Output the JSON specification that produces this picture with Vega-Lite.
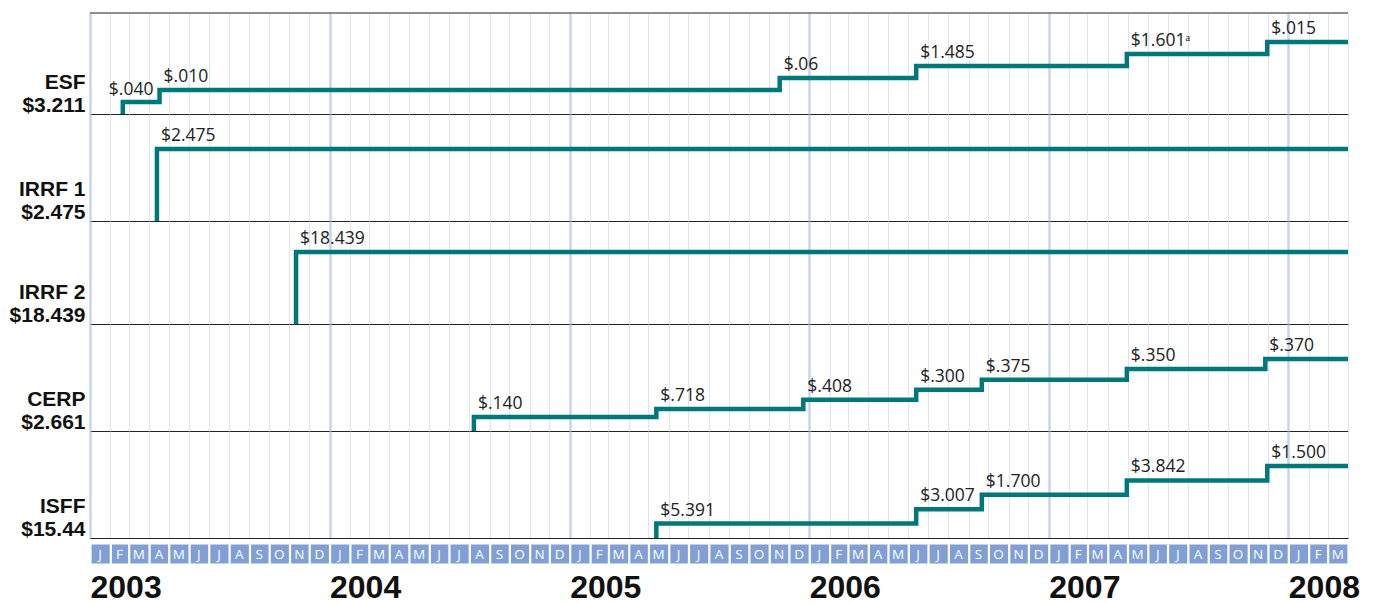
{
  "$schema": "https://vega.github.io/schema/vega-lite/v6.json",
  "padding": {"left": 9, "top": 12, "right": 5, "bottom": 0},
  "background": "white",
  "config": {"view": {"stroke": null}, "font": "Liberation Sans",
    "axisY": {"labels": false, "ticks": false, "domain": false, "grid": false, "titleAngle": 0, "titleAlign": "right", "titleBaseline": "alphabetic", "titleX": -5, "titleFontSize": 21, "titleFontWeight": "bold", "titleColor": "#111", "titleLineHeight": 23, "titlePadding": 0}},
  "datasets": {
    "steps": [
      {"fund": "ESF", "i": 0, "date": "2003-02-20", "level": 0, "label": null},
      {"fund": "ESF", "i": 1, "date": "2003-02-20", "level": 1, "label": "$.040"},
      {"fund": "ESF", "i": 2, "date": "2003-04-17", "level": 2, "label": "$.010"},
      {"fund": "ESF", "i": 3, "date": "2005-11-17", "level": 3, "label": "$.06"},
      {"fund": "ESF", "i": 4, "date": "2006-06-13", "level": 4, "label": "$1.485"},
      {"fund": "ESF", "i": 5, "date": "2007-04-30", "level": 5, "label": "$1.601ᵃ"},
      {"fund": "ESF", "i": 6, "date": "2007-11-30", "level": 6, "label": "$.015"},
      {"fund": "ESF", "i": 7, "date": "2008-04-01", "level": 6, "label": null},
      {"fund": "IRRF 1", "i": 0, "date": "2003-04-13", "level": 0, "label": null},
      {"fund": "IRRF 1", "i": 1, "date": "2003-04-13", "level": 6, "label": "$2.475"},
      {"fund": "IRRF 1", "i": 2, "date": "2008-04-01", "level": 6, "label": null},
      {"fund": "IRRF 2", "i": 0, "date": "2003-11-11", "level": 0, "label": null},
      {"fund": "IRRF 2", "i": 1, "date": "2003-11-11", "level": 6, "label": "$18.439"},
      {"fund": "IRRF 2", "i": 2, "date": "2008-04-01", "level": 6, "label": null},
      {"fund": "CERP", "i": 0, "date": "2004-08-08", "level": 0, "label": null},
      {"fund": "CERP", "i": 1, "date": "2004-08-08", "level": 1.17, "label": "$.140"},
      {"fund": "CERP", "i": 2, "date": "2005-05-13", "level": 1.83, "label": "$.718"},
      {"fund": "CERP", "i": 3, "date": "2005-12-23", "level": 2.6, "label": "$.408"},
      {"fund": "CERP", "i": 4, "date": "2006-06-13", "level": 3.43, "label": "$.300"},
      {"fund": "CERP", "i": 5, "date": "2006-09-21", "level": 4.28, "label": "$.375"},
      {"fund": "CERP", "i": 6, "date": "2007-04-30", "level": 5.16, "label": "$.350"},
      {"fund": "CERP", "i": 7, "date": "2007-11-27", "level": 6, "label": "$.370"},
      {"fund": "CERP", "i": 8, "date": "2008-04-01", "level": 6, "label": null},
      {"fund": "ISFF", "i": 0, "date": "2005-05-13", "level": 0, "label": null},
      {"fund": "ISFF", "i": 1, "date": "2005-05-13", "level": 1.2, "label": "$5.391"},
      {"fund": "ISFF", "i": 2, "date": "2006-06-13", "level": 2.4, "label": "$3.007"},
      {"fund": "ISFF", "i": 3, "date": "2006-09-21", "level": 3.6, "label": "$1.700"},
      {"fund": "ISFF", "i": 4, "date": "2007-04-30", "level": 4.8, "label": "$3.842"},
      {"fund": "ISFF", "i": 5, "date": "2007-11-30", "level": 6, "label": "$1.500"},
      {"fund": "ISFF", "i": 6, "date": "2008-04-01", "level": 6, "label": null}
    ],
    "months": [
      {"m": "2003-01-01", "l": "J"}, {"m": "2003-02-01", "l": "F"}, {"m": "2003-03-01", "l": "M"}, {"m": "2003-04-01", "l": "A"}, {"m": "2003-05-01", "l": "M"}, {"m": "2003-06-01", "l": "J"}, {"m": "2003-07-01", "l": "J"}, {"m": "2003-08-01", "l": "A"}, {"m": "2003-09-01", "l": "S"}, {"m": "2003-10-01", "l": "O"}, {"m": "2003-11-01", "l": "N"}, {"m": "2003-12-01", "l": "D"},
      {"m": "2004-01-01", "l": "J"}, {"m": "2004-02-01", "l": "F"}, {"m": "2004-03-01", "l": "M"}, {"m": "2004-04-01", "l": "A"}, {"m": "2004-05-01", "l": "M"}, {"m": "2004-06-01", "l": "J"}, {"m": "2004-07-01", "l": "J"}, {"m": "2004-08-01", "l": "A"}, {"m": "2004-09-01", "l": "S"}, {"m": "2004-10-01", "l": "O"}, {"m": "2004-11-01", "l": "N"}, {"m": "2004-12-01", "l": "D"},
      {"m": "2005-01-01", "l": "J"}, {"m": "2005-02-01", "l": "F"}, {"m": "2005-03-01", "l": "M"}, {"m": "2005-04-01", "l": "A"}, {"m": "2005-05-01", "l": "M"}, {"m": "2005-06-01", "l": "J"}, {"m": "2005-07-01", "l": "J"}, {"m": "2005-08-01", "l": "A"}, {"m": "2005-09-01", "l": "S"}, {"m": "2005-10-01", "l": "O"}, {"m": "2005-11-01", "l": "N"}, {"m": "2005-12-01", "l": "D"},
      {"m": "2006-01-01", "l": "J"}, {"m": "2006-02-01", "l": "F"}, {"m": "2006-03-01", "l": "M"}, {"m": "2006-04-01", "l": "A"}, {"m": "2006-05-01", "l": "M"}, {"m": "2006-06-01", "l": "J"}, {"m": "2006-07-01", "l": "J"}, {"m": "2006-08-01", "l": "A"}, {"m": "2006-09-01", "l": "S"}, {"m": "2006-10-01", "l": "O"}, {"m": "2006-11-01", "l": "N"}, {"m": "2006-12-01", "l": "D"},
      {"m": "2007-01-01", "l": "J"}, {"m": "2007-02-01", "l": "F"}, {"m": "2007-03-01", "l": "M"}, {"m": "2007-04-01", "l": "A"}, {"m": "2007-05-01", "l": "M"}, {"m": "2007-06-01", "l": "J"}, {"m": "2007-07-01", "l": "J"}, {"m": "2007-08-01", "l": "A"}, {"m": "2007-09-01", "l": "S"}, {"m": "2007-10-01", "l": "O"}, {"m": "2007-11-01", "l": "N"}, {"m": "2007-12-01", "l": "D"},
      {"m": "2008-01-01", "l": "J"}, {"m": "2008-02-01", "l": "F"}, {"m": "2008-03-01", "l": "M"}
    ]
  },
  "vconcat": [
    {
      "width": 1258, "height": 101,
      "data": {"name": "steps"},
      "layer": [
        {
          "transform": [{"filter": "datum.fund === 'ESF'"}],
          "mark": {"type": "line", "interpolate": "step-after", "color": "#00787a", "strokeWidth": 4.5, "strokeJoin": "miter", "strokeCap": "butt"},
          "encoding": {
            "x": {"field": "date", "type": "temporal", "title": null,
              "scale": {"type": "utc", "nice": false, "domain": ["2003-01-01", "2008-04-01"]},
              "axis": {"orient": "bottom", "labels": false, "ticks": false, "title": null, "domain": true, "domainColor": "#222", "domainWidth": 1, "grid": true, "tickCount": {"interval": "month", "step": 1},
                "gridColor": {"condition": {"test": "utcmonth(datum.value) === 0", "value": "#c9d5ee"}, "value": "#dfe4f1"},
                "gridWidth": {"condition": {"test": "utcmonth(datum.value) === 0", "value": 2.5}, "value": 1}}},
            "y": {"field": "level", "type": "quantitative", "scale": {"domain": [0, 8.417], "nice": false}, "axis": {"title": ["ESF", "$3.211"], "titleY": 75}},
            "order": {"field": "i", "type": "quantitative"}
          }
        },
        {
          "transform": [{"filter": "datum.fund === 'ESF' && datum.i === 0"}],
          "mark": {"type": "rule", "color": "#222", "strokeWidth": 1},
          "encoding": {"y": {"datum": 8.417, "type": "quantitative"}}
        },
        {
          "transform": [{"filter": "datum.fund === 'ESF' && datum.label != null && datum.label !== '$.040'"}],
          "mark": {"type": "text", "align": "left", "baseline": "alphabetic", "dx": 4, "dy": -8, "font": "Open Sans", "fontSize": 17.5, "color": "#222"},
          "encoding": {"x": {"field": "date", "type": "temporal", "title": null}, "y": {"field": "level", "type": "quantitative"}, "text": {"field": "label", "type": "nominal"}}
        },
        {
          "transform": [{"filter": "datum.fund === 'ESF' && datum.label === '$.040'"}],
          "mark": {"type": "text", "align": "left", "baseline": "alphabetic", "dx": -14, "dy": -7, "font": "Open Sans", "fontSize": 17.5, "color": "#222"},
          "encoding": {"x": {"field": "date", "type": "temporal", "title": null}, "y": {"field": "level", "type": "quantitative"}, "text": {"field": "label", "type": "nominal"}}
        }
      ]
    },
    {
      "width": 1258, "height": 107,
      "data": {"name": "steps"},
      "transform": [{"filter": "datum.fund === 'IRRF 1'"}],
      "layer": [
        {
          "mark": {"type": "line", "interpolate": "step-after", "color": "#00787a", "strokeWidth": 4.5, "strokeJoin": "miter", "strokeCap": "butt"},
          "encoding": {
            "x": {"field": "date", "type": "temporal", "title": null,
              "scale": {"type": "utc", "nice": false, "domain": ["2003-01-01", "2008-04-01"]},
              "axis": {"orient": "bottom", "labels": false, "ticks": false, "title": null, "domain": true, "domainColor": "#222", "domainWidth": 1, "grid": true, "tickCount": {"interval": "month", "step": 1},
                "gridColor": {"condition": {"test": "utcmonth(datum.value) === 0", "value": "#c9d5ee"}, "value": "#dfe4f1"},
                "gridWidth": {"condition": {"test": "utcmonth(datum.value) === 0", "value": 2.5}, "value": 1}}},
            "y": {"field": "level", "type": "quantitative", "scale": {"domain": [0, 8.917], "nice": false}, "axis": {"title": ["IRRF 1", "$2.475"], "titleY": 81}},
            "order": {"field": "i", "type": "quantitative"}
          }
        },
        {
          "transform": [{"filter": "datum.label != null"}],
          "mark": {"type": "text", "align": "left", "baseline": "alphabetic", "dx": 4, "dy": -8, "font": "Open Sans", "fontSize": 17.5, "color": "#222"},
          "encoding": {"x": {"field": "date", "type": "temporal", "title": null}, "y": {"field": "level", "type": "quantitative"}, "text": {"field": "label", "type": "nominal"}}
        }
      ]
    },
    {
      "width": 1258, "height": 103,
      "data": {"name": "steps"},
      "transform": [{"filter": "datum.fund === 'IRRF 2'"}],
      "layer": [
        {
          "mark": {"type": "line", "interpolate": "step-after", "color": "#00787a", "strokeWidth": 4.5, "strokeJoin": "miter", "strokeCap": "butt"},
          "encoding": {
            "x": {"field": "date", "type": "temporal", "title": null,
              "scale": {"type": "utc", "nice": false, "domain": ["2003-01-01", "2008-04-01"]},
              "axis": {"orient": "bottom", "labels": false, "ticks": false, "title": null, "domain": true, "domainColor": "#222", "domainWidth": 1, "grid": true, "tickCount": {"interval": "month", "step": 1},
                "gridColor": {"condition": {"test": "utcmonth(datum.value) === 0", "value": "#c9d5ee"}, "value": "#dfe4f1"},
                "gridWidth": {"condition": {"test": "utcmonth(datum.value) === 0", "value": 2.5}, "value": 1}}},
            "y": {"field": "level", "type": "quantitative", "scale": {"domain": [0, 8.583], "nice": false}, "axis": {"title": ["IRRF 2", "$18.439"], "titleY": 77}},
            "order": {"field": "i", "type": "quantitative"}
          }
        },
        {
          "transform": [{"filter": "datum.label != null"}],
          "mark": {"type": "text", "align": "left", "baseline": "alphabetic", "dx": 4, "dy": -8, "font": "Open Sans", "fontSize": 17.5, "color": "#222"},
          "encoding": {"x": {"field": "date", "type": "temporal", "title": null}, "y": {"field": "level", "type": "quantitative"}, "text": {"field": "label", "type": "nominal"}}
        }
      ]
    },
    {
      "width": 1258, "height": 107,
      "data": {"name": "steps"},
      "transform": [{"filter": "datum.fund === 'CERP'"}],
      "layer": [
        {
          "mark": {"type": "line", "interpolate": "step-after", "color": "#00787a", "strokeWidth": 4.5, "strokeJoin": "miter", "strokeCap": "butt"},
          "encoding": {
            "x": {"field": "date", "type": "temporal", "title": null,
              "scale": {"type": "utc", "nice": false, "domain": ["2003-01-01", "2008-04-01"]},
              "axis": {"orient": "bottom", "labels": false, "ticks": false, "title": null, "domain": true, "domainColor": "#222", "domainWidth": 1, "grid": true, "tickCount": {"interval": "month", "step": 1},
                "gridColor": {"condition": {"test": "utcmonth(datum.value) === 0", "value": "#c9d5ee"}, "value": "#dfe4f1"},
                "gridWidth": {"condition": {"test": "utcmonth(datum.value) === 0", "value": 2.5}, "value": 1}}},
            "y": {"field": "level", "type": "quantitative", "scale": {"domain": [0, 8.917], "nice": false}, "axis": {"title": ["CERP", "$2.661"], "titleY": 81}},
            "order": {"field": "i", "type": "quantitative"}
          }
        },
        {
          "transform": [{"filter": "datum.label != null"}],
          "mark": {"type": "text", "align": "left", "baseline": "alphabetic", "dx": 4, "dy": -8, "font": "Open Sans", "fontSize": 17.5, "color": "#222"},
          "encoding": {"x": {"field": "date", "type": "temporal", "title": null}, "y": {"field": "level", "type": "quantitative"}, "text": {"field": "label", "type": "nominal"}}
        }
      ]
    },
    {
      "width": 1258, "height": 107,
      "data": {"name": "steps"},
      "transform": [{"filter": "datum.fund === 'ISFF'"}],
      "layer": [
        {
          "mark": {"type": "line", "interpolate": "step-after", "color": "#00787a", "strokeWidth": 4.5, "strokeJoin": "miter", "strokeCap": "butt"},
          "encoding": {
            "x": {"field": "date", "type": "temporal", "title": null,
              "scale": {"type": "utc", "nice": false, "domain": ["2003-01-01", "2008-04-01"]},
              "axis": {"orient": "bottom", "labels": false, "ticks": false, "title": null, "domain": true, "domainColor": "#222", "domainWidth": 1, "grid": true, "tickCount": {"interval": "month", "step": 1},
                "gridColor": {"condition": {"test": "utcmonth(datum.value) === 0", "value": "#c9d5ee"}, "value": "#dfe4f1"},
                "gridWidth": {"condition": {"test": "utcmonth(datum.value) === 0", "value": 2.5}, "value": 1}}},
            "y": {"field": "level", "type": "quantitative", "scale": {"domain": [0, 8.917], "nice": false}, "axis": {"title": ["ISFF", "$15.44"], "titleY": 81}},
            "order": {"field": "i", "type": "quantitative"}
          }
        },
        {
          "transform": [{"filter": "datum.label != null"}],
          "mark": {"type": "text", "align": "left", "baseline": "alphabetic", "dx": 4, "dy": -8, "font": "Open Sans", "fontSize": 17.5, "color": "#222"},
          "encoding": {"x": {"field": "date", "type": "temporal", "title": null}, "y": {"field": "level", "type": "quantitative"}, "text": {"field": "label", "type": "nominal"}}
        }
      ]
    },
    {
      "width": 1258, "height": 26,
      "data": {"name": "months"},
      "layer": [
        {
          "mark": {"type": "bar", "color": "#819fd5", "stroke": "white", "strokeWidth": 1.2},
          "encoding": {
            "x": {"field": "m", "type": "temporal", "timeUnit": "utcyearmonth", "title": null,
              "scale": {"type": "utc", "nice": false, "domain": ["2003-01-01", "2008-04-01"]},
              "axis": {"orient": "bottom", "tickCount": {"interval": "year", "step": 1}, "format": "%Y", "labelFont": "Liberation Sans", "labelFontWeight": "bold", "labelFontSize": 32, "labelColor": "#111", "labelAlign": "left", "labelBaseline": "alphabetic", "labelPadding": 33, "labelFlush": false, "labelOverlap": false, "ticks": false, "tickSize": 0, "domain": false, "grid": false, "title": null}},
            "y": {"datum": 0, "type": "quantitative", "scale": {"domain": [0, 26], "nice": false}, "axis": null},
            "y2": {"datum": 20}
          }
        },
        {
          "mark": {"type": "text", "color": "white", "font": "Open Sans", "fontSize": 13.5, "baseline": "middle", "align": "center", "dy": 1},
          "encoding": {
            "x": {"field": "m", "type": "temporal", "timeUnit": "utcyearmonth", "bandPosition": 0.5, "title": null},
            "y": {"datum": 10, "type": "quantitative"},
            "text": {"field": "l", "type": "nominal"}
          }
        }
      ]
    }
  ],
  "spacing": 0,
  "bounds": "flush"
}
